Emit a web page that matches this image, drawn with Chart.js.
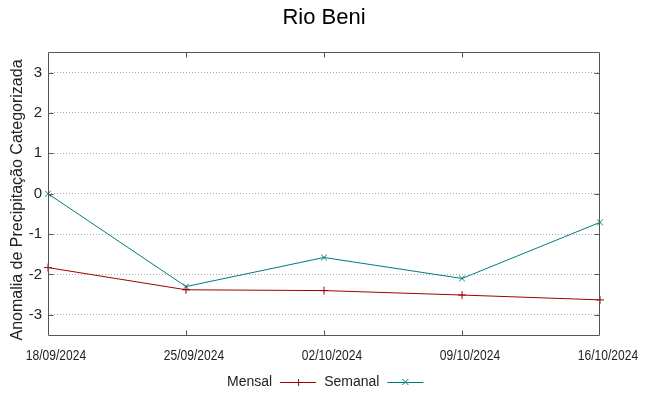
<!DOCTYPE html>
<html>
<head>
<meta charset="utf-8">
<script src="https://cdn.jsdelivr.net/npm/chart.js@4.4.0/dist/chart.umd.min.js"></script>
<style>
  html, body { margin: 0; padding: 0; background: #fff; }
  #wrap { width: 648px; height: 396px; }
</style>
</head>
<body>
<div id="wrap"><canvas id="chart" width="648" height="396"></canvas></div>
<script>
// data
const dates = ["18/09/2024", "25/09/2024", "02/10/2024", "09/10/2024", "16/10/2024"];
const mensal = [-1.83, -2.38, -2.40, -2.51, -2.63];
const semanal = [0, -2.30, -1.58, -2.10, -0.71];
const yTicks = [-3, -2, -1, 0, 1, 2, 3];
const yTitle = "Anomalia de Precipitação Categorizada";

const redColor = "#a00000";
const tealColor = "#007b7b";
const fontName = "'Liberation Sans', Arial, sans-serif";

// gnuplot-like frame: border box plus small inward ticks
const framePlugin = {
  id: "frame",
  afterDatasetsDraw(chart) {
    const { ctx, chartArea: a, scales } = chart;
    const L = Math.round(a.left) + 0.5, R = Math.round(a.right) - 0.5;
    const T = Math.round(a.top) + 0.5, B = Math.round(a.bottom) + 0.5;
    ctx.save();
    ctx.strokeStyle = "#555";
    ctx.lineWidth = 1;
    ctx.beginPath();
    ctx.rect(L, T, R - L, B - T);
    ctx.stroke();
    ctx.beginPath();
    yTicks.forEach(v => {
      const y = Math.round(scales.y.getPixelForValue(v)) + 0.5;
      ctx.moveTo(L, y); ctx.lineTo(L + 5, y);
      ctx.moveTo(R - 5, y); ctx.lineTo(R, y);
    });
    dates.forEach((d, i) => {
      if (i === 0 || i === dates.length - 1) return;
      const x = Math.round(scales.x.getPixelForValue(i)) + 0.5;
      ctx.moveTo(x, B); ctx.lineTo(x, B - 5);
      ctx.moveTo(x, T); ctx.lineTo(x, T + 5);
    });
    ctx.stroke();

    // date labels, slightly condensed and nudged right like the original
    ctx.fillStyle = "#222";
    ctx.font = "14px " + fontName;
    ctx.textAlign = "center";
    ctx.textBaseline = "middle";
    dates.forEach((d, i) => {
      const x = scales.x.getPixelForValue(i) + 8;
      ctx.save();
      ctx.translate(x, 356);
      ctx.scale(0.86, 1);
      ctx.fillText(d, 0, 0);
      ctx.restore();
    });

    // y axis title, a bit below the plot's middle like the original
    ctx.translate(18, 200);
    ctx.rotate(-Math.PI / 2);
    ctx.font = "16px " + fontName;
    ctx.fillText(yTitle, 0, 0);
    ctx.restore();
  }
};

// legend below the axis: name first, then line sample with its marker
const legendPlugin = {
  id: "bottomLegend",
  afterDraw(chart) {
    const { ctx } = chart;
    ctx.save();
    ctx.font = "14px " + fontName;
    ctx.textBaseline = "middle";
    ctx.fillStyle = "#222";
    const y = 382;
    let x = 227;
    chart.data.datasets.forEach(ds => {
      ctx.fillText(ds.label, x, y);
      x += ctx.measureText(ds.label).width + 8;
      ctx.strokeStyle = ds.borderColor;
      ctx.lineWidth = 1;
      ctx.beginPath();
      ctx.moveTo(x, y + 0.5); ctx.lineTo(x + 36, y + 0.5);
      ctx.stroke();
      const mx = x + 18;
      ctx.beginPath();
      if (ds.pointStyle === "cross") {
        ctx.moveTo(mx - 3.5, y + 0.5); ctx.lineTo(mx + 3.5, y + 0.5);
        ctx.moveTo(mx + 0.5, y - 3); ctx.lineTo(mx + 0.5, y + 4);
      } else {
        ctx.moveTo(mx - 3, y - 3); ctx.lineTo(mx + 3, y + 3);
        ctx.moveTo(mx + 3, y - 3); ctx.lineTo(mx - 3, y + 3);
      }
      ctx.stroke();
      x += 44;
    });
    ctx.restore();
  }
};

new Chart(document.getElementById("chart"), {
  type: "line",
  data: {
    labels: dates,
    datasets: [
      {
        label: "Mensal",
        data: mensal,
        borderColor: redColor,
        backgroundColor: redColor,
        borderWidth: 1,
        pointStyle: "cross",
        pointRadius: 4,
        pointBorderWidth: 1,
        tension: 0
      },
      {
        label: "Semanal",
        data: semanal,
        borderColor: tealColor,
        backgroundColor: tealColor,
        borderWidth: 1,
        pointStyle: "crossRot",
        pointRadius: 4,
        pointBorderWidth: 1,
        tension: 0
      }
    ]
  },
  options: {
    responsive: false,
    animation: false,
    layout: { padding: { top: 5, right: 0, bottom: 0, left: 0 } },
    plugins: {
      legend: { display: false },
      tooltip: { enabled: false },
      title: {
        display: true,
        text: "Rio Beni",
        color: "#000",
        font: { family: fontName, size: 22, weight: "normal" },
        padding: { top: 0, bottom: 21 }
      }
    },
    scales: {
      x: {
        type: "category",
        offset: false,
        grid: { display: false, drawTicks: false },
        border: { display: false },
        ticks: { display: false },
        afterFit(scale) { scale.height = 61; }
      },
      y: {
        min: -3.5,
        max: 3.5,
        afterBuildTicks(scale) {
          scale.ticks = yTicks.map(v => ({ value: v }));
        },
        grid: {
          drawTicks: false,
          color: "#a8a8a8",
          lineWidth: 1
        },
        border: { display: false, dash: [1, 2] },
        ticks: {
          color: "#222",
          font: { family: fontName, size: 15 },
          padding: 6
        },
        afterFit(scale) { scale.width = 48; }
      },
      yRight: {
        position: "right",
        min: -3.5,
        max: 3.5,
        grid: { display: false, drawTicks: false },
        border: { display: false },
        ticks: { display: false },
        afterFit(scale) { scale.width = 48; }
      }
    }
  },
  plugins: [framePlugin, legendPlugin]
});
</script>
</body>
</html>
